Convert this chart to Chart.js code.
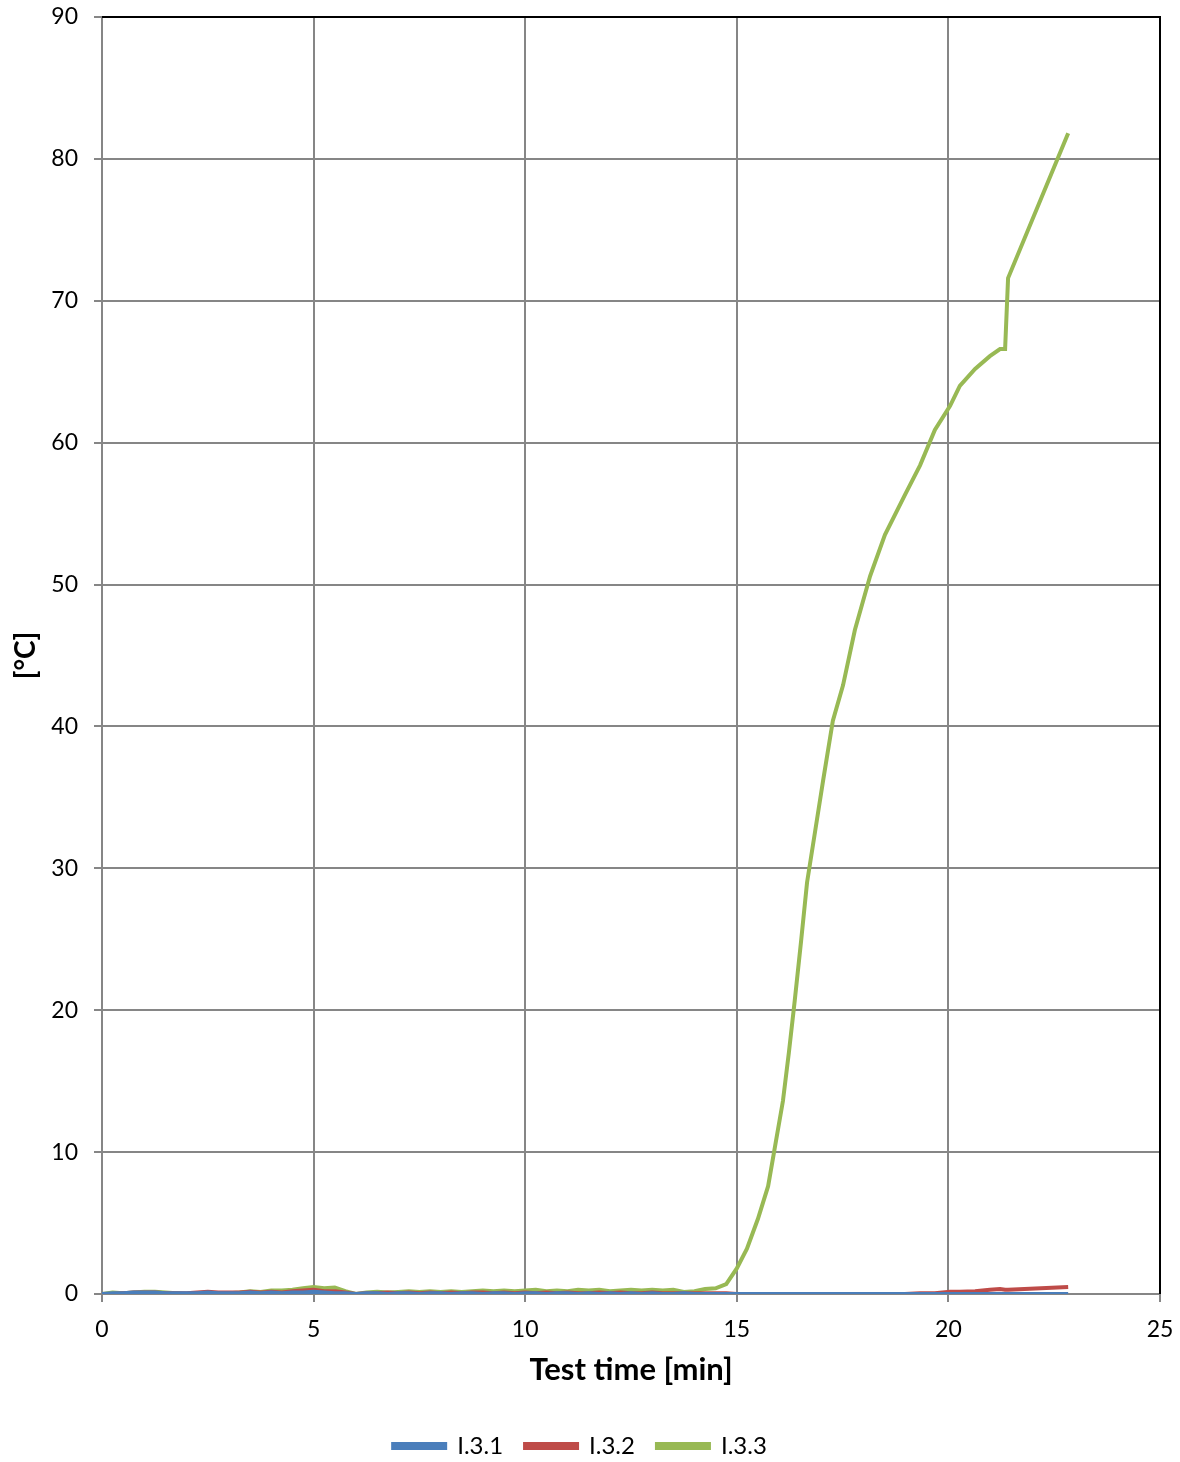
<!DOCTYPE html>
<html>
<head>
<meta charset="utf-8">
<script src="https://cdn.jsdelivr.net/npm/chart.js@4.4.1/dist/chart.umd.min.js"></script>
<style>
  html, body { margin: 0; padding: 0; background: #fff; }
  #wrap { width: 1180px; height: 1462px; }
</style>
</head>
<body>
<div id="wrap"><canvas id="chart"></canvas></div>
<script>
// Test time [min]
const times = [
  0, 0.25, 0.5, 0.75, 1, 1.25, 1.5, 1.75, 2, 2.25, 2.5, 2.75, 3, 3.25, 3.5, 3.75,
  4, 4.25, 4.5, 4.75, 5, 5.25, 5.5, 5.75, 6, 6.25, 6.5, 6.75, 7, 7.25, 7.5, 7.75,
  8, 8.25, 8.5, 8.75, 9, 9.25, 9.5, 9.75, 10, 10.25, 10.5, 10.75, 11, 11.25, 11.5, 11.75,
  12, 12.25, 12.5, 12.75, 13, 13.25, 13.5, 13.75, 14, 14.25, 14.5, 14.75,
  15, 15.24, 15.5, 15.74, 15.88, 16.09, 16.23, 16.37, 16.52, 16.66, 16.85, 17.04,
  17.27, 17.51, 17.79, 18.15, 18.5, 18.97, 19.33, 19.68, 20.04, 20.27, 20.63, 20.98,
  21.22, 21.34, 21.41, 22.83
];

// temperatures [°C]
const i31 = [
  0, 0.05, 0.05, 0.1, 0.1, 0.1, 0.05, 0.05, 0.05, 0.05, 0.1, 0.05, 0.05, 0.05, 0.1, 0.05,
  0.1, 0.05, 0.1, 0.1, 0.15, 0.1, 0.05, 0.05, 0, 0.05, 0.05, 0, 0.05, 0.05, 0, 0.05,
  0.05, 0, 0.05, 0.05, 0, 0.05, 0.05, 0, 0.05, 0.05, 0, 0.05, 0.05, 0, 0.05, 0,
  0.05, 0, 0.05, 0, 0.05, 0, 0, 0.05, 0, 0, 0, 0,
  0, 0, 0, 0, 0, 0, 0, 0, 0, 0, 0, 0,
  0, 0, 0, 0, 0, 0, 0, 0, 0, 0, 0, 0,
  0, 0, 0, 0
];
const i32 = [
  0, 0, 0.05, 0.1, 0.1, 0.1, 0.05, 0.05, 0.05, 0.1, 0.15, 0.1, 0.1, 0.1, 0.15, 0.1,
  0.15, 0.1, 0.2, 0.25, 0.3, 0.2, 0.2, 0.1, 0, 0.05, 0.05, 0.1, 0.05, 0.1, 0.05, 0.1,
  0.05, 0.1, 0.05, 0.1, 0.1, 0.05, 0.1, 0.05, 0.1, 0.05, 0.1, 0.05, 0.1, 0.05, 0.05, 0.1,
  0.05, 0.1, 0.05, 0.05, 0.1, 0.05, 0.05, 0.05, 0.05, 0.05, 0.05, 0.05,
  0, 0, 0, 0, 0, 0, 0, 0, 0, 0, 0, 0,
  0, 0, 0, 0, 0, 0, 0.05, 0.05, 0.15, 0.15, 0.2, 0.3,
  0.35, 0.3, 0.3, 0.5
];
const i33 = [
  0, 0.1, 0.05, 0.1, 0.15, 0.15, 0.1, 0.05, 0, 0, 0.05, 0, 0.05, 0.1, 0.2, 0.15,
  0.25, 0.25, 0.3, 0.4, 0.5, 0.4, 0.45, 0.2, 0, 0.1, 0.15, 0.1, 0.15, 0.2, 0.15, 0.2,
  0.15, 0.2, 0.15, 0.2, 0.25, 0.2, 0.25, 0.2, 0.25, 0.3, 0.2, 0.25, 0.2, 0.3, 0.25, 0.3,
  0.2, 0.25, 0.3, 0.25, 0.3, 0.25, 0.3, 0.15, 0.2, 0.35, 0.4, 0.7,
  1.8, 3.2, 5.3, 7.6, 10.0, 13.6, 17.0, 20.7, 24.9, 29.0, 32.6, 36.2,
  40.4, 42.9, 46.8, 50.6, 53.5, 56.3, 58.4, 60.9, 62.6, 64.0, 65.2, 66.1,
  66.6, 66.6, 71.6, 81.8
];

const seriesNames = ["I.3.1", "I.3.2", "I.3.3"];
const seriesColors = ["#4a7ebb", "#be4b48", "#98b954"];
const xTicks = { min: 0, max: 25, step: 5 };
const yTicks = { min: 0, max: 90, step: 10 };

const FONT = "Lato, sans-serif";

function toPoints(vals) {
  return vals.map((v, i) => ({ x: times[i], y: v }));
}

// fixed axis boxes so the plot area lands where it should
function fixBox(size) {
  return function (scale) {
    if (scale.isHorizontal()) scale.height = size;
    else scale.width = size;
    scale.paddingTop = 0;
    scale.paddingBottom = 0;
    scale.paddingLeft = 0;
    scale.paddingRight = 0;
  };
}

// black frame on top and right of the plot area
const framePlugin = {
  id: "frame",
  afterDraw(chart) {
    const { ctx, chartArea: a } = chart;
    ctx.save();
    ctx.strokeStyle = "#000";
    ctx.lineWidth = 2;
    ctx.beginPath();
    ctx.moveTo(a.left, a.top);
    ctx.lineTo(a.right, a.top);
    ctx.lineTo(a.right, a.bottom);
    ctx.stroke();
    ctx.restore();
  },
};

const ctx = document.getElementById("chart").getContext("2d");
const chart = new Chart(ctx, {
  type: "line",
  data: {
    datasets: [i31, i32, i33].map((vals, i) => ({
      label: seriesNames[i],
      data: toPoints(vals),
      borderColor: seriesColors[i],
      backgroundColor: seriesColors[i],
      borderWidth: 4,
      pointRadius: 0,
      tension: 0,
    })),
  },
  options: {
    responsive: true,
    maintainAspectRatio: false,
    animation: false,
    layout: { padding: { left: 0, right: 20, top: 17, bottom: -6 } },
    plugins: {
      legend: {
        position: "bottom",
        labels: {
          color: "#000",
          font: { family: FONT, size: 24 },
          boxWidth: 52,
          boxHeight: 4,
          padding: 22,
        },
      },
      tooltip: { enabled: false },
    },
    scales: {
      x: {
        type: "linear",
        min: xTicks.min,
        max: xTicks.max,
        afterFit: fixBox(118),
        border: { color: "#868686", width: 2 },
        grid: { color: "#868686", lineWidth: 2, tickLength: 8 },
        ticks: {
          stepSize: xTicks.step,
          color: "#000",
          font: { family: FONT, size: 23 },
          padding: 14,
        },
        title: {
          display: true,
          text: "Test time [min]",
          color: "#000",
          font: { family: FONT, size: 31, weight: "bold" },
          padding: { top: 4, bottom: 23 },
        },
      },
      y: {
        min: yTicks.min,
        max: yTicks.max,
        afterFit: fixBox(102),
        border: { color: "#868686", width: 2 },
        grid: { color: "#868686", lineWidth: 2, tickLength: 8 },
        ticks: {
          stepSize: yTicks.step,
          color: "#000",
          font: { family: FONT, size: 23 },
          padding: 16,
        },
        title: {
          display: true,
          text: "[°C]",
          color: "#000",
          font: { family: FONT, size: 28, weight: "bold" },
          padding: { top: 9, bottom: 0 },
        },
      },
    },
  },
  plugins: [framePlugin],
});
</script>
</body>
</html>
